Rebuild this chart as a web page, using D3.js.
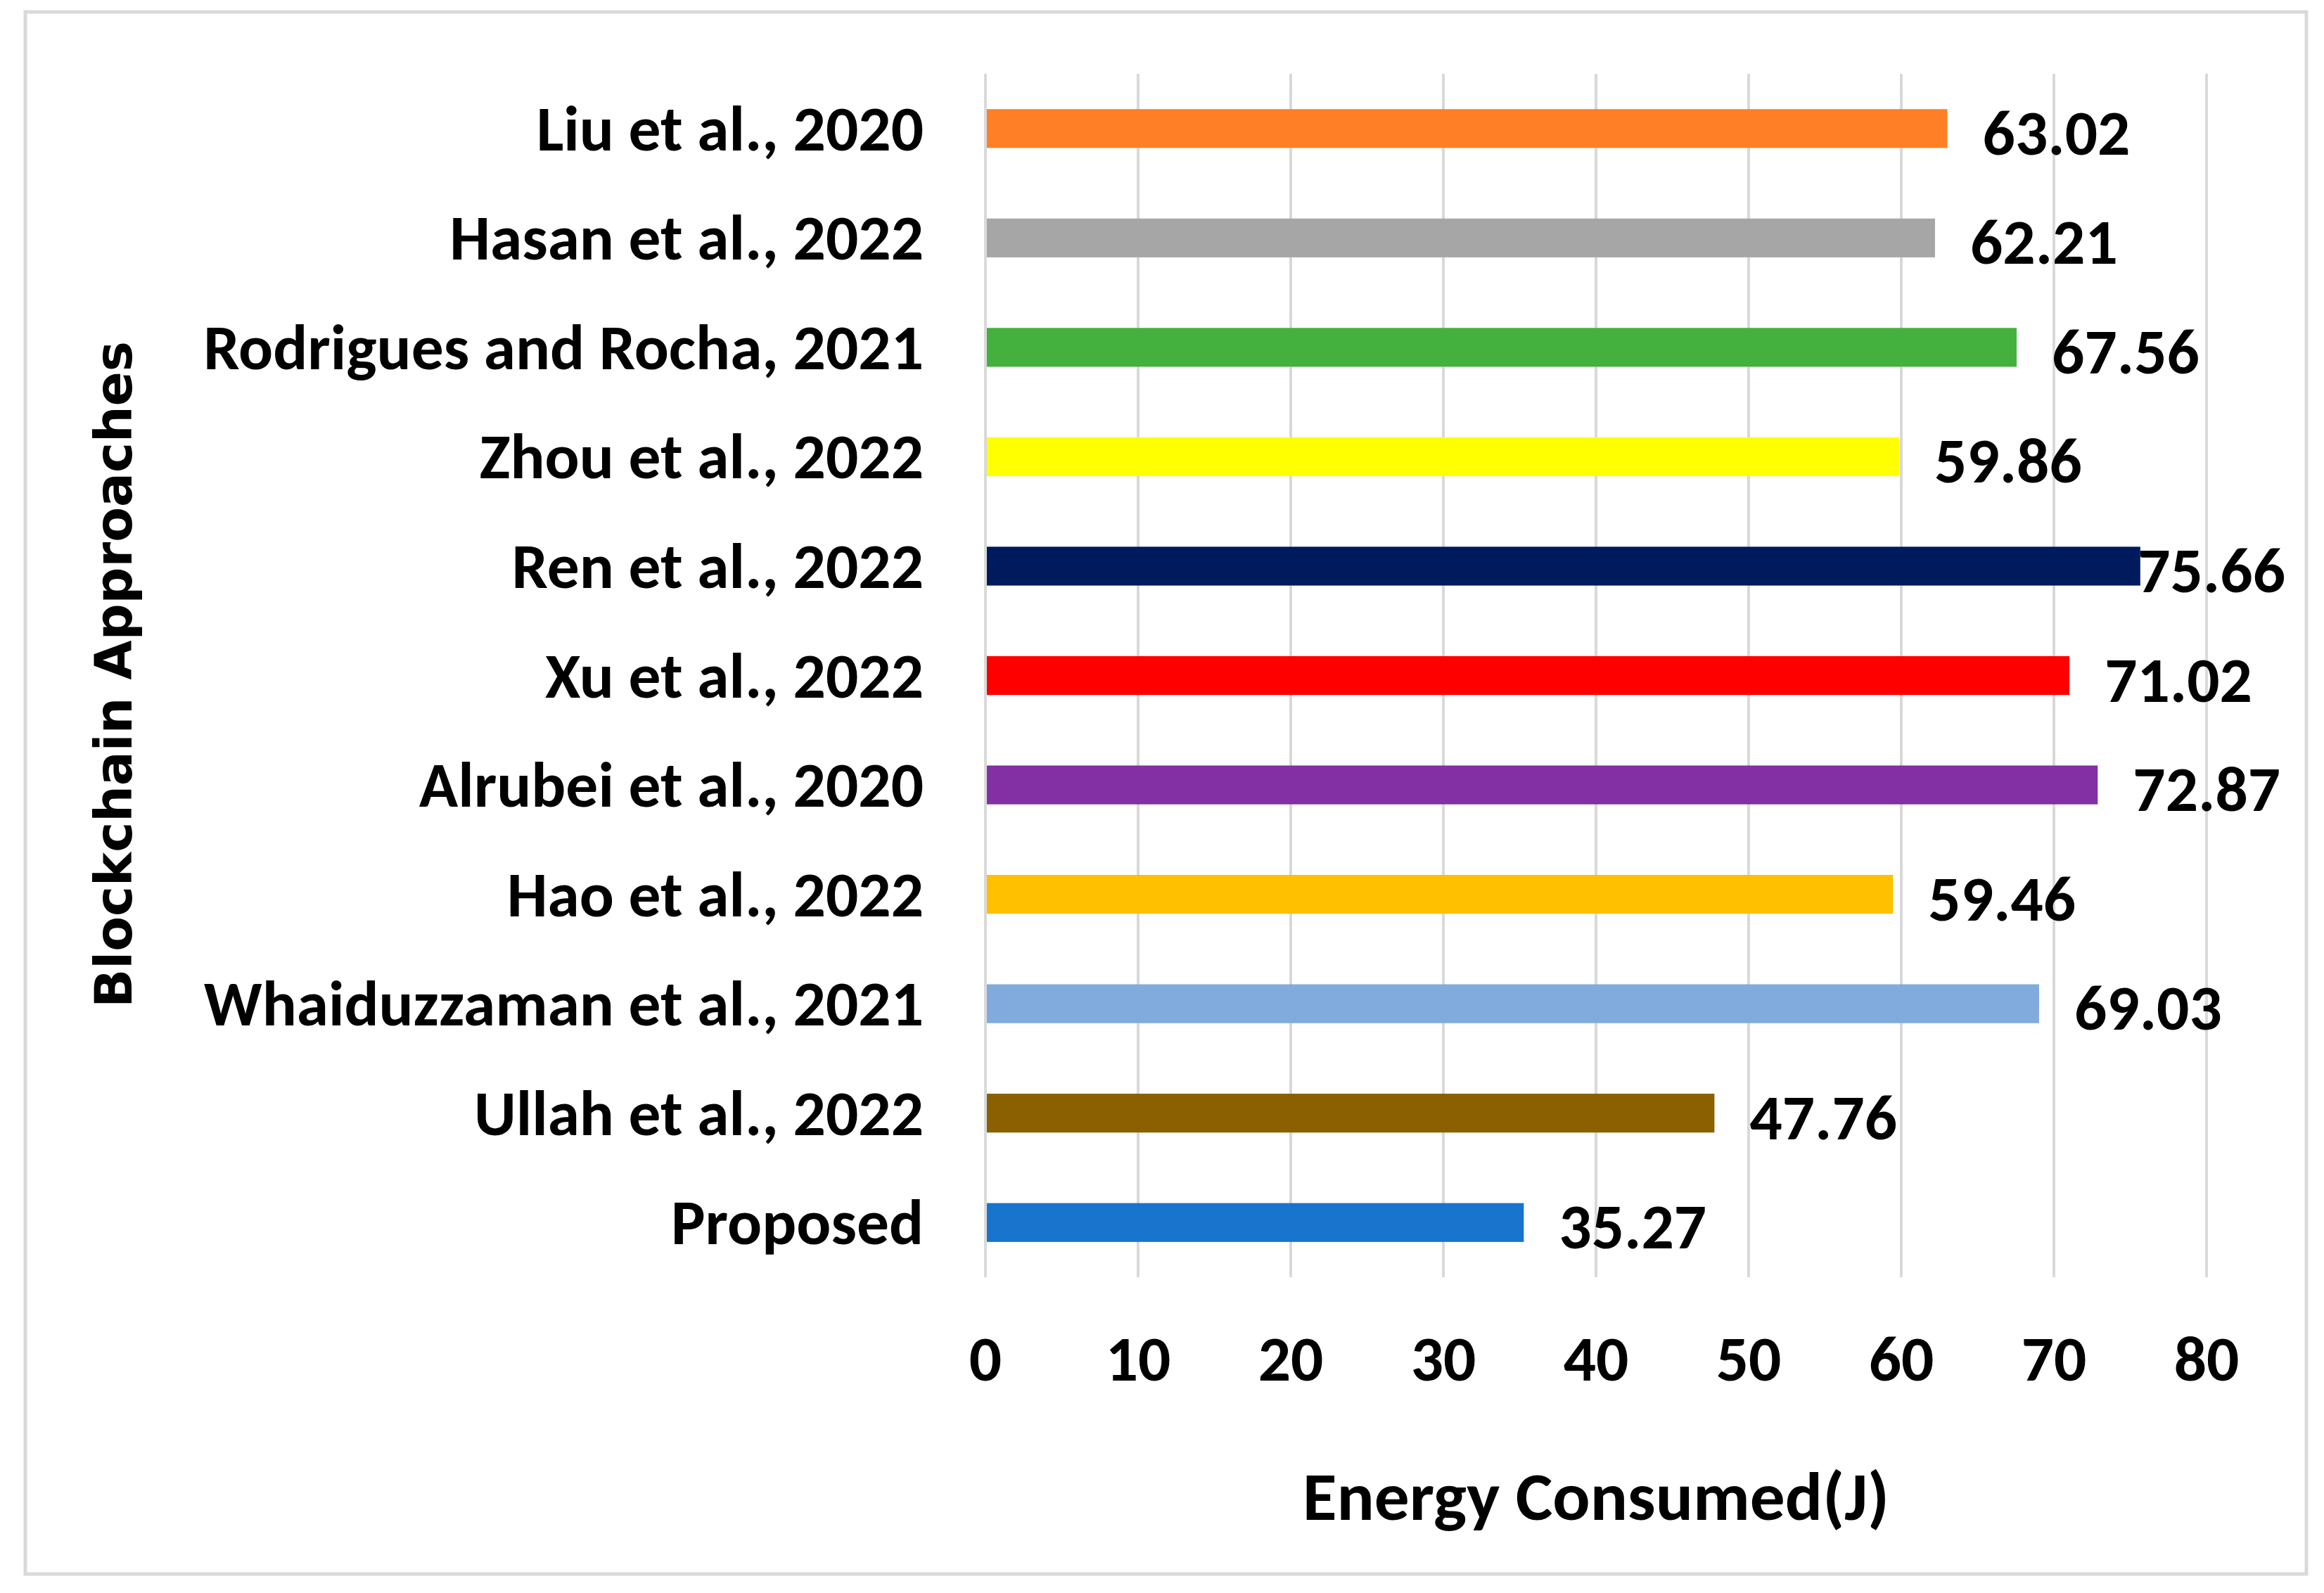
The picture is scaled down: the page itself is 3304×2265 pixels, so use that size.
<!DOCTYPE html>
<html>
<head>
<meta charset="utf-8">
<script src="https://cdn.jsdelivr.net/npm/d3@7"></script>
<style>
html,body{margin:0;padding:0;background:#fff;}
svg{display:block;}
</style>
</head>
<body>
<svg id="chart" width="3304" height="2265"></svg>
<script>
const categories = ["Liu et al., 2020","Hasan et al., 2022","Rodrigues and Rocha, 2021","Zhou et al., 2022","Ren et al., 2022","Xu et al., 2022","Alrubei et al., 2020","Hao et al., 2022","Whaiduzzaman et al., 2021","Ullah et al., 2022","Proposed"];
const values = [63.02,62.21,67.56,59.86,75.66,71.02,72.87,59.46,69.03,47.76,35.27];
const valueLabels = ["63.02","62.21","67.56","59.86","75.66","71.02","72.87","59.46","69.03","47.76","35.27"];
const barColors = ["#FF7F27","#A6A6A6","#44B03E","#FFFF00","#001A5E","#FF0000","#8230A3","#FFC000","#80ABDC","#8A6000","#1874CD"];
const xTicks = [0,10,20,30,40,50,60,70,80];
const xTitle = "Energy Consumed(J)";
const yTitle = "Blockchain Approaches";

const svg = d3.select("#chart");
const FONT = "Carlito, Calibri, Lato, 'Open Sans', sans-serif";
const FS = 92;

svg.append("rect").attr("x",36).attr("y",17).attr("width",3243).attr("height",2221)
  .attr("fill","#fff").attr("stroke","#d9d9d9").attr("stroke-width",5);

const x = d3.scaleLinear().domain([0,80]).range([1401,3137]);
const y = d3.scaleBand().domain(categories).range([105,1816]).paddingInner(0.645).paddingOuter(0.3225);

function measure(str, fs){
  const p = svg.append("text").attr("font-family",FONT).attr("font-weight","bold").attr("font-size",fs).text(str);
  const w = p.node().getComputedTextLength();
  p.remove();
  return w;
}
const sx = 1024/measure("Rodrigues and Rocha, 2021", FS);

// gridlines
svg.append("g").selectAll("line").data(xTicks).join("line")
  .attr("x1",d=>x(d)).attr("x2",d=>x(d)).attr("y1",105).attr("y2",1816)
  .attr("stroke","#d9d9d9").attr("stroke-width",4);

// bars
svg.append("g").selectAll("rect").data(categories).join("rect")
  .attr("x",x(0)+2).attr("y",d=>y(d))
  .attr("width",(d,i)=>x(values[i])-x(0)-2).attr("height",y.bandwidth())
  .attr("fill",(d,i)=>barColors[i]);

function condensedText(g, tx, ty, str, anchor, fs, s){
  fs = fs || FS; s = s || sx;
  return g.append("text")
    .attr("transform",`translate(${tx},${ty}) scale(${s},1)`)
    .attr("font-family",FONT).attr("font-weight","bold").attr("font-size",fs)
    .attr("fill","#000").attr("text-anchor",anchor).attr("dominant-baseline","central")
    .text(str);
}

// category labels
const catG = svg.append("g");
categories.forEach(c=>condensedText(catG, 1313, y(c)+y.bandwidth()/2, c, "end"));

// value labels
const valG = svg.append("g");
categories.forEach((c,i)=>{
  const cy = y(c)+y.bandwidth()/2 + 6;
  const t = condensedText(valG, 0, cy, valueLabels[i], "start");
  const w = t.node().getComputedTextLength()*sx;
  let lx = x(values[i]) + 50;
  if (lx + w > 3249) lx = 3249 - w;
  t.attr("transform",`translate(${lx},${cy}) scale(${sx},1)`);
});

// tick labels
const tickG = svg.append("g");
xTicks.forEach(v=>condensedText(tickG, x(v), 1932, String(v), "middle"));

// x title
const TFS = 98;
const tsx = 834/measure(xTitle, TFS);
condensedText(svg.append("g"), 2269, 2128, xTitle, "middle", TFS, tsx);

// y title
const yt = svg.append("text")
  .attr("font-family","'DejaVu Sans', Verdana, sans-serif").attr("font-weight","bold")
  .attr("font-size",70).attr("text-anchor","middle").attr("dominant-baseline","central")
  .attr("transform","translate(162,959) rotate(-90)").text(yTitle);
const ytw = yt.node().getComputedTextLength();
yt.attr("font-size", 70*948/ytw);
</script>
</body>
</html>
